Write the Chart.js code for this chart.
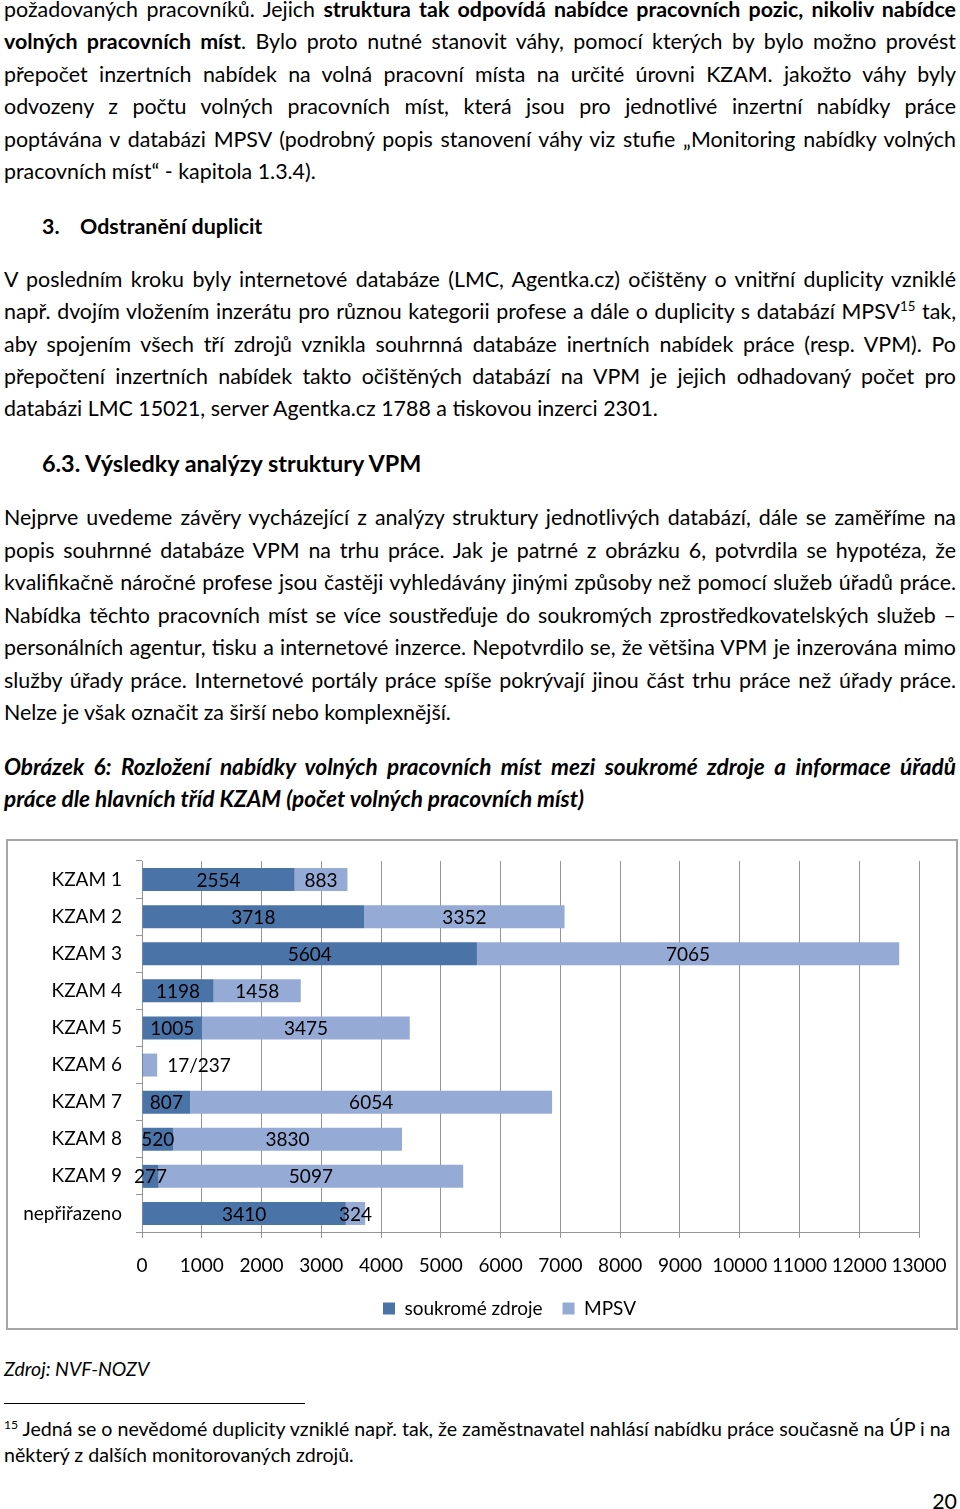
<!DOCTYPE html>
<html lang="cs">
<head>
<meta charset="utf-8">
<title>Obrázek 6</title>
<script src="https://cdn.jsdelivr.net/npm/chart.js@4.4.1/dist/chart.umd.min.js"></script>
<style>
  html, body { margin: 0; padding: 0; background: #fff; }
  body { width: 960px; height: 1509px; position: relative; overflow: hidden;
         font-family: Lato, "Open Sans", sans-serif; color: #000; }
  .r { position: absolute; left: 4px; width: 952px; font-size: 21.4px; line-height: 32px;
       height: 32px; white-space: nowrap; }
  .j { text-align: justify; text-align-last: justify; }
  .h { font-weight: bold; }
  .h2 { font-weight: bold; font-size: 23.4px; }
  .cap { font-weight: bold; font-style: italic; font-size: 22.6px; }
  .fn { position: absolute; left: 4px; width: 944px; font-size: 19.6px; line-height: 26px;
        height: 26px; white-space: nowrap; }
  sup { font-size: 62%; line-height: 0; vertical-align: 0.6em; }
  #ramec { position: absolute; left: 6px; top: 839px; width: 952px; height: 491px;
           box-sizing: border-box; border: 2px solid #a6a6a6; }
  #graf { display: block; }
</style>
</head>
<body>

<div class="r j" style="top:-7.5px">požadovaných pracovníků. Jejich <b>struktura tak odpovídá nabídce pracovních pozic, nikoliv nabídce</b></div>
<div class="r j" style="top:25px"><b>volných pracovních míst</b>. Bylo proto nutné stanovit váhy, pomocí kterých by bylo možno provést</div>
<div class="r j" style="top:57.5px">přepočet inzertních nabídek na volná pracovní místa na určité úrovni KZAM. jakožto váhy byly</div>
<div class="r j" style="top:90px">odvozeny z počtu volných pracovních míst, která jsou pro jednotlivé inzertní nabídky práce</div>
<div class="r j" style="top:122.5px">poptávána v databázi MPSV (podrobný popis stanovení váhy viz stufie „Monitoring nabídky volných</div>
<div class="r" style="top:155px">pracovních míst“ - kapitola 1.3.4).</div>

<div class="r h" style="top:210px; left:42px">3.<span style="position:absolute; left:38px">Odstranění duplicit</span></div>

<div class="r j" style="top:263px">V posledním kroku byly internetové databáze (LMC, Agentka.cz) očištěny o vnitřní duplicity vzniklé</div>
<div class="r j" style="top:295px">např. dvojím vložením inzerátu pro různou kategorii profese a dále o duplicity s databází MPSV<sup>15</sup> tak,</div>
<div class="r j" style="top:327.5px">aby spojením všech tří zdrojů vznikla souhrnná databáze inertních nabídek práce (resp. VPM). Po</div>
<div class="r j" style="top:360px">přepočtení inzertních nabídek takto očištěných databází na VPM je jejich odhadovaný počet pro</div>
<div class="r" style="top:392px">databázi LMC 15021, server Agentka.cz 1788 a tiskovou inzerci 2301.</div>

<div class="r h2" style="top:447px; left:42px">6.3. Výsledky analýzy struktury VPM</div>

<div class="r j" style="top:501px">Nejprve uvedeme závěry vycházející z analýzy struktury jednotlivých databází, dále se zaměříme na</div>
<div class="r j" style="top:534px">popis souhrnné databáze VPM na trhu práce. Jak je patrné z obrázku 6, potvrdila se hypotéza, že</div>
<div class="r j" style="top:566px">kvalifikačně náročné profese jsou častěji vyhledávány jinými způsoby než pomocí služeb úřadů práce.</div>
<div class="r j" style="top:599px">Nabídka těchto pracovních míst se více soustřeďuje do soukromých zprostředkovatelských služeb –</div>
<div class="r j" style="top:631px">personálních agentur, tisku a internetové inzerce. Nepotvrdilo se, že většina VPM je inzerována mimo</div>
<div class="r j" style="top:664px">služby úřady práce. Internetové portály práce spíše pokrývají jinou část trhu práce než úřady práce.</div>
<div class="r" style="top:696px">Nelze je však označit za širší nebo komplexnější.</div>

<div class="r j cap" style="top:751px">Obrázek 6: Rozložení nabídky volných pracovních míst mezi soukromé zdroje a informace úřadů</div>
<div class="r cap" style="top:783px">práce dle hlavních tříd KZAM (počet volných pracovních míst)</div>

<div id="ramec"><canvas id="graf" width="948" height="487"></canvas></div>

<div class="r" style="top:1353px; font-style:italic; font-size:19.5px">Zdroj: NVF-NOZV</div>
<div style="position:absolute; left:4px; top:1403px; width:301px; height:1px; background:#000"></div>
<div class="fn j" style="top:1415.5px"><sup>15</sup> Jedná se o nevědomé duplicity vzniklé např. tak, že zaměstnavatel nahlásí nabídku práce současně na ÚP i na</div>
<div class="fn" style="top:1441.5px">některý z dalších monitorovaných zdrojů.</div>
<div class="r" style="top:1485px; text-align:right; left:0; width:957px">20</div>

<script>
// kategorie KZAM
const kategorie = ['KZAM 1', 'KZAM 2', 'KZAM 3', 'KZAM 4', 'KZAM 5', 'KZAM 6', 'KZAM 7', 'KZAM 8', 'KZAM 9', 'nepřiřazeno'];
// počet volných pracovních míst
const soukromeZdroje = [2554, 3718, 5604, 1198, 1005, 17, 807, 520, 277, 3410];
const mpsv = [883, 3352, 7065, 1458, 3475, 237, 6054, 3830, 5097, 324];
// u KZAM 6 je jeden společný popisek vedle sloupce
const spolecnyPopisek = [null, null, null, null, null, '17/237', null, null, null, null];
const osaX = { min: 0, max: 13000, krok: 1000 };

const pismo = { family: 'Lato', size: 19 };
const seda = '#959595';

const popisky = {
    id: 'popisky',
    afterDatasetsDraw(chart) {
        const ctx = chart.ctx;
        ctx.save();
        ctx.font = pismo.size + 'px ' + pismo.family;
        ctx.fillStyle = '#000';
        ctx.textBaseline = 'middle';
        chart.data.datasets.forEach((ds, di) => {
            chart.getDatasetMeta(di).data.forEach((bar, i) => {
                if (spolecnyPopisek[i]) return;
                ctx.textAlign = 'center';
                ctx.fillText(String(ds.data[i]), (bar.x + bar.base) / 2, bar.y + 1);
            });
        });
        spolecnyPopisek.forEach((txt, i) => {
            if (!txt) return;
            const bar = chart.getDatasetMeta(1).data[i];
            ctx.textAlign = 'left';
            ctx.fillText(txt, bar.x + 10, bar.y + 1);
        });
        ctx.restore();
    }
};

// legenda je v originale posunuta doprava
const posunLegendy = {
    id: 'posunLegendy',
    afterLayout(chart) {
        chart.legend.left += 42;
        chart.legend.right += 42;
    }
};

new Chart(document.getElementById('graf'), {
    type: 'bar',
    data: {
        labels: kategorie,
        datasets: [
            { label: 'soukromé zdroje', data: soukromeZdroje, backgroundColor: '#4a74a8' },
            { label: 'MPSV', data: mpsv, backgroundColor: '#95abd5' }
        ]
    },
    options: {
        indexAxis: 'y',
        responsive: false,
        animation: false,
        devicePixelRatio: 1,
        datasets: { bar: { categoryPercentage: 1, barPercentage: 0.62, borderWidth: 0 } },
        layout: { padding: { left: 8, right: 37, top: 20, bottom: 0 } },
        scales: {
            x: {
                stacked: true,
                min: osaX.min,
                max: osaX.max,
                ticks: { stepSize: osaX.krok, font: pismo, color: '#000', padding: 16, maxRotation: 0, autoSkip: false,
                         callback: v => String(v) },
                grid: { color: seda, tickLength: 6 },
                border: { color: seda },
                afterFit: s => { s.height = 47; s.paddingLeft = 0; s.paddingRight = 0; }
            },
            y: {
                stacked: true,
                ticks: { font: pismo, color: '#000', padding: 14 },
                grid: { drawOnChartArea: false, tickLength: 6, color: seda, offset: true },
                border: { color: seda },
                afterFit: s => { s.width = 126; s.paddingTop = 0; s.paddingBottom = 0; }
            }
        },
        plugins: {
            legend: {
                position: 'bottom',
                labels: { boxWidth: 12, boxHeight: 12, font: pismo, color: '#000', padding: 20 }
            },
            tooltip: { enabled: false }
        }
    },
    plugins: [popisky, posunLegendy]
});
</script>
</body>
</html>
